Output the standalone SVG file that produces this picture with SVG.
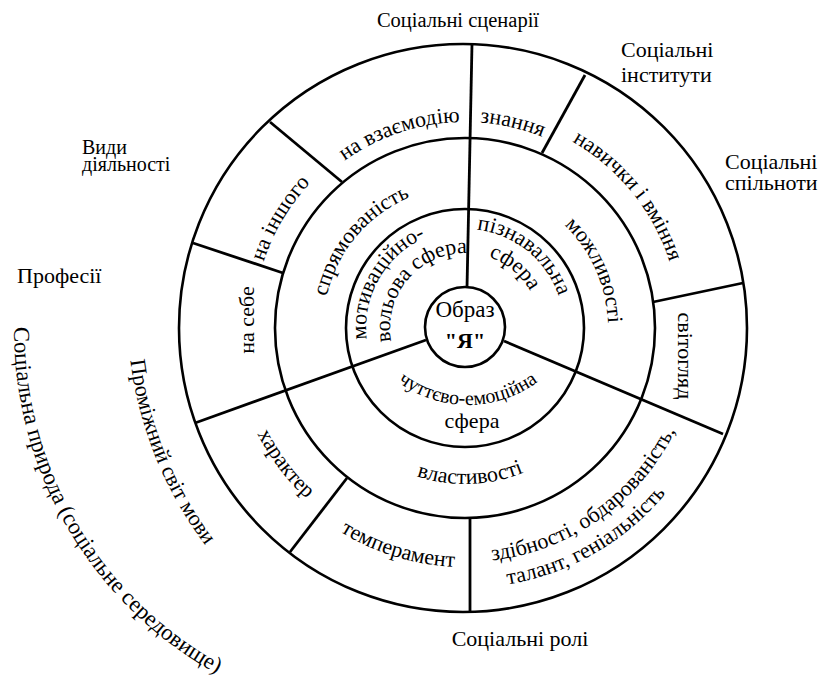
<svg xmlns="http://www.w3.org/2000/svg" width="819" height="677" viewBox="0 0 819 677">
<style>
  .ring{fill:none;stroke:#000;stroke-width:2.6}
  .div{stroke:#000;stroke-width:2.8;stroke-linecap:butt;fill:none}
  .t{font-family:"Liberation Serif","Times New Roman","DejaVu Serif",serif;font-size:22px;fill:#000}
  .m{text-anchor:middle}
</style>
<defs>
  <path id="p1" d="M289.2,220.7 A206,206 0 0 1 540.2,136.2"/>
  <path id="p2" d="M422.5,126.4 A206,206 0 0 1 592.1,165.9"/>
  <path id="p3" d="M524.3,121.3 A215,215 0 0 1 679.5,313.0"/>
  <path id="p4" d="M538.6,205.4 A143,143 0 0 1 605.4,355.3"/>
  <path id="p5" d="M454.7,229.5 A99,99 0 0 1 563.5,317.7"/>
  <path id="p6" d="M464.3,253.0 A75,75 0 0 1 538.7,314.3"/>
  <path id="p7" d="M369.4,353.6 A99,99 0 0 1 439.4,232.4"/>
  <path id="p8" d="M394.3,353.0 A75,75 0 0 1 478.7,254.3"/>
  <path id="p9" d="M323,328 A142,142 0 0 1 440.3,188.2"/>
  <path id="p10" d="M254.0,306.9 A212,212 0 0 1 345.5,152.9"/>
  <path id="p11" d="M237.2,376.8 A233,233 0 0 0 356.0,533.9"/>
  <path id="p12" d="M305.1,505.6 A239,239 0 0 0 498.3,564.7"/>
  <path id="p13" d="M445.8,561.2 A234,234 0 0 0 691.3,387.4"/>
  <path id="p14" d="M465,588 A260,260 0 0 0 690.2,458"/>
  <path id="p15" d="M391.8,465.7 A156,156 0 0 0 547.7,460.3"/>
  <path id="p16" d="M378.4,363.2 A117,117 0 0 0 557.6,363.2"/>
  <path id="p17" d="M127.5,290.1 A393,393 0 0 0 252.5,597.9"/>
  <path id="p18" d="M15.3,297.8 A393,393 0 0 0 242.8,687.0"/>
</defs>
<rect width="819" height="677" fill="#fff"/>

<g id="rings">
  <circle id="outer-ring" class="ring" cx="463" cy="328" r="284"/>
  <circle id="middle-ring" class="ring" cx="465" cy="328" r="190"/>
  <circle id="inner-ring" class="ring" cx="465" cy="328" r="119"/>
  <circle id="core" class="ring" cx="465" cy="327" r="40"/>
</g>

<g id="connectors">
  <line class="div" x1="472" y1="44" x2="467" y2="288"/>
  <line class="div" x1="470" y1="518" x2="470" y2="612"/>
  <line class="div" x1="426" y1="340" x2="195" y2="423"/>
  <line class="div" x1="504" y1="341" x2="723" y2="434"/>
  <line class="div" x1="342" y1="182" x2="270" y2="122"/>
  <line class="div" x1="283" y1="273" x2="193" y2="243"/>
  <line class="div" x1="542" y1="153" x2="585" y2="75"/>
  <line class="div" x1="653" y1="302" x2="743" y2="283"/>
  <line class="div" x1="347" y1="478" x2="290" y2="552"/>
</g>

<g id="core-label">
  <text class="t m" x="465" y="317" style="font-size:23px">Образ</text>
  <text class="t m" x="465" y="348" style="font-weight:bold">"Я"</text>
</g>

<g id="inner-labels">
  <text class="t m"><textPath href="#p5" startOffset="50%">пізнавальна</textPath></text>
  <text class="t m"><textPath href="#p6" startOffset="50%">сфера</textPath></text>
  <text class="t m"><textPath href="#p7" startOffset="50%">мотиваційно-</textPath></text>
  <text class="t m"><textPath href="#p8" startOffset="50%">вольова сфера</textPath></text>
  <text class="t m" style="font-size:20px"><textPath href="#p16" startOffset="50%">чуттєво-емоційна</textPath></text>
  <text class="t m" x="472" y="428">сфера</text>
</g>

<g id="middle-labels">
  <text class="t m"><textPath href="#p9" startOffset="50%">спрямованість</textPath></text>
  <text class="t m"><textPath href="#p4" startOffset="50%">можливості</textPath></text>
  <text class="t m"><textPath href="#p15" startOffset="50%">властивості</textPath></text>
</g>

<g id="outer-labels">
  <text class="t m"><textPath href="#p1" startOffset="50%">на взаємодію</textPath></text>
  <text class="t m"><textPath href="#p2" startOffset="50%">знання</textPath></text>
  <text class="t m"><textPath href="#p3" startOffset="50%">навички і вміння</textPath></text>
  <text class="t m"><textPath href="#p10" startOffset="50%">на іншого</textPath></text>
  <text class="t m" transform="translate(254,320) rotate(-90)">на себе</text>
  <text class="t m" transform="translate(678,356) rotate(90)">світогляд</text>
  <text class="t m"><textPath href="#p11" startOffset="50%">характер</textPath></text>
  <text class="t m"><textPath href="#p12" startOffset="50%">темперамент</textPath></text>
  <text class="t m"><textPath href="#p13" startOffset="50%">здібності, обдарованість,</textPath></text>
  <text class="t m"><textPath href="#p14" startOffset="50%">талант, геніальність</textPath></text>
</g>

<g id="context-labels">
  <text class="t m" x="458" y="27" style="font-size:20.5px">Соціальні сценарії</text>
  <text class="t" x="621" y="57">Соціальні</text>
  <text class="t" x="621" y="82">інститути</text>
  <text class="t" x="725" y="169">Соціальні</text>
  <text class="t" x="725" y="190">спільноти</text>
  <text class="t" x="82" y="154" style="font-size:20px">Види</text>
  <text class="t" x="82" y="171" style="font-size:20px">діяльності</text>
  <text class="t" x="17" y="283">Професії</text>
  <text class="t m" x="520" y="646">Соціальні ролі</text>
  <text class="t m"><textPath href="#p17" startOffset="50%">Проміжний світ мови</textPath></text>
  <text class="t m" style="font-size:22.8px"><textPath href="#p18" startOffset="50%">Соціальна природа (соціальне середовище)</textPath></text>
</g>
</svg>
